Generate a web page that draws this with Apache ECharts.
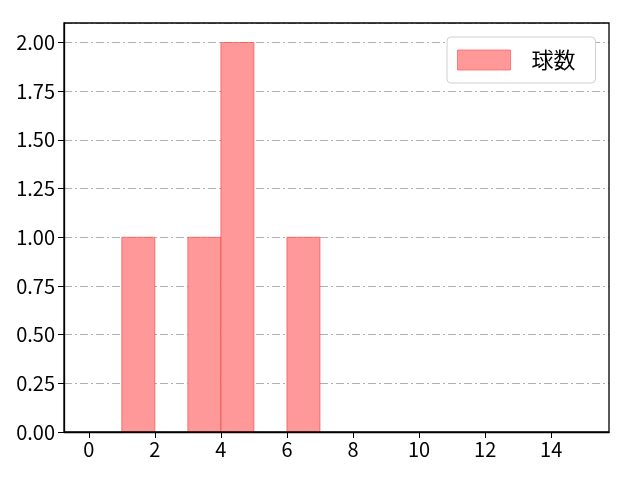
<!DOCTYPE html>
<html>
<head>
<meta charset="utf-8">
<script src="https://cdn.jsdelivr.net/npm/echarts@6/dist/echarts.min.js"></script>
<style>
html,body{margin:0;padding:0;background:#fff;}
#chart{width:640px;height:480px;}
</style>
</head>
<body>
<div id="chart"></div>
<script>
// histogram bins: left edge, right edge, count
var binStart=[1,3,4,6];
var binEnd=[2,4,5,7];
var counts=[1,1,2,1];
var xTicks=[0,2,4,6,8,10,12,14];
var seriesName="球数";

var font="'Noto Sans CJK JP','DejaVu Sans',sans-serif";
var chart=echarts.init(document.getElementById('chart'));

var data=[];
for(var i=0;i<counts.length;i++){
	data.push([binStart[i],binEnd[i],counts[i]]);
}

var option={
	animation:false,
	grid:{left:64,right:31,top:23,bottom:48},
	legend:{
		data:[{name:seriesName,icon:'rect'}],
		left:447,
		top:37,
		itemWidth:53,
		itemHeight:20,
		padding:[12,20,12,10],
		backgroundColor:'#fff',
		borderColor:'#d0d0d0',
		borderWidth:1,
		borderRadius:4,
		textStyle:{fontFamily:font,fontSize:22,color:'#000',padding:[0,0,0,16]},
		itemStyle:{color:'rgba(255,153,153,1)',borderColor:'rgba(255,100,100,0.8)',borderWidth:1}
	},
	xAxis:{
		type:'value',
		min:-0.75,
		max:15.75,
		axisLine:{onZero:false,lineStyle:{color:'#000',width:1.3}},
		axisTick:{show:true,length:6,customValues:xTicks,lineStyle:{color:'#000'}},
		axisLabel:{customValues:xTicks,color:'#000',fontSize:20,fontFamily:font,margin:7},
		splitLine:{show:false}
	},
	yAxis:{
		type:'value',
		min:0,
		max:2.1,
		interval:0.25,
		axisLine:{show:true,onZero:false,lineStyle:{color:'#000',width:1.3}},
		axisTick:{show:true,length:6,lineStyle:{color:'#000'}},
		axisLabel:{color:'#000',fontSize:20,fontFamily:font,margin:9,
			formatter:function(v){return v.toFixed(2);},
			showMaxLabel:false},
		splitLine:{show:true,lineStyle:{color:'#b0b0b0',width:1,type:[8,3,2,3]}}
	},
	series:[{
		name:seriesName,
		type:'custom',
		data:data,
		encode:{x:[0,1],y:2},
		itemStyle:{color:'rgba(255,153,153,1)'},
		renderItem:function(params,api){
			var p0=api.coord([api.value(0),0]);
			var p1=api.coord([api.value(1),api.value(2)]);
			return {
				type:'rect',
				shape:{x:p0[0],y:p1[1],width:p1[0]-p0[0],height:p0[1]-p1[1]},
				style:{fill:'rgba(255,153,153,1)',stroke:'rgba(240,60,60,0.6)',lineWidth:1}
			};
		}
	}]
};
chart.setOption(option);

// top and right frame of the plot area
var rect=chart.getModel().getComponent('grid').coordinateSystem.getRect();
chart.setOption({graphic:[{
	type:'rect',
	shape:{x:rect.x,y:rect.y,width:rect.width,height:rect.height},
	style:{fill:null,stroke:'#000',lineWidth:1.3},
	silent:true,
	z:10
}]});
</script>
</body>
</html>
